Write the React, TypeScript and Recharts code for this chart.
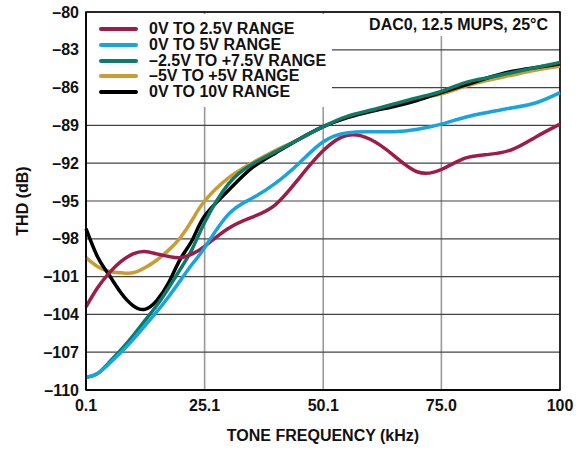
import {
  CartesianGrid,
  Label,
  Line,
  LineChart,
  ReferenceArea,
  XAxis,
  YAxis,
} from "recharts";

const freqKHz = [
  0.1, 2.5, 5, 7.5, 10, 12.5, 15, 17.5, 20, 22.5, 25.1, 30, 35, 40, 45, 50.1,
  55, 60, 65, 70, 75, 80, 85, 90, 95, 100,
];

const range0to2v5 = [
  -103.4, -101.9, -100.7, -99.8, -99.2, -99.0, -99.2, -99.4, -99.5, -99.2,
  -98.6, -97.2, -96.3, -95.3, -93.2, -91.0, -89.8, -90.1, -91.4, -92.7, -92.5,
  -91.6, -91.3, -90.9, -89.9, -88.9,
];
const range0to5v = [
  -109.0, -108.7, -107.9, -107.0, -106.0, -104.9, -103.8, -102.6, -101.3,
  -100.0, -98.7, -96.1, -94.8, -93.6, -92.0, -90.3, -89.6, -89.5, -89.5, -89.3,
  -88.9, -88.35, -87.95, -87.6, -87.2, -86.4,
];
const rangeM2v5to7v5 = [
  -109.0, -108.7, -107.8, -106.8, -105.7, -104.5, -103.3, -101.9, -100.4,
  -98.8, -96.7, -93.7, -92.1, -91.1, -90.1, -89.1, -88.3, -87.8, -87.3, -86.8,
  -86.3, -85.6, -85.2, -84.8, -84.4, -84.0,
];
const rangeM5to5v = [
  -99.5, -100.2, -100.6, -100.7, -100.7, -100.3, -99.7, -98.9, -97.9, -96.5,
  -95.0, -93.2, -92.0, -91.0, -90.1, -89.1, -88.4, -87.9, -87.4, -86.9, -86.5,
  -85.9, -85.4, -85.0, -84.6, -84.3,
];
const range0to10v = [
  -97.2, -99.4, -100.9, -102.3, -103.3, -103.6, -102.9, -101.5, -99.6, -98.1,
  -96.2, -94.2, -92.4, -91.2, -90.1, -89.1, -88.4, -87.9, -87.5, -87.0, -86.4,
  -85.8, -85.2, -84.7, -84.4, -84.1,
];

const xTicks = [0.1, 25.1, 50.1, 75.0, 100];
const xTickLabels = ["0.1", "25.1", "50.1", "75.0", "100"];
const yTicks = [-110, -107, -104, -101, -98, -95, -92, -89, -86, -83, -80];

const series = [
  { key: "r2v5", name: "0V TO 2.5V RANGE", color: "#9e1c4a", values: range0to2v5 },
  { key: "r5v", name: "0V TO 5V RANGE", color: "#18a4dc", values: range0to5v },
  { key: "rm2v5", name: "\u20132.5V TO +7.5V RANGE", color: "#0d7a6a", values: rangeM2v5to7v5 },
  { key: "rm5v", name: "\u20135V TO +5V RANGE", color: "#c99c34", values: rangeM5to5v },
  { key: "r10v", name: "0V TO 10V RANGE", color: "#000000", values: range0to10v },
];

// drawing order (last on top)
const drawOrder = ["rm5v", "r10v", "rm2v5", "r2v5", "r5v"];

const data = freqKHz.map((f, i) => {
  const row: Record<string, number> = { f };
  series.forEach((s) => {
    row[s.key] = s.values[i];
  });
  return row;
});

const FONT = '"Liberation Sans", Arial, Helvetica, sans-serif';
const textStyle = { fill: "#111", fontSize: 16, fontWeight: 700, fontFamily: FONT };

const fmtY = (v: number) => (v < 0 ? "\u2013" + Math.abs(v) : String(v));
const fmtX = (v: number) => {
  const i = xTicks.findIndex((t) => Math.abs(t - v) < 1e-6);
  return i >= 0 ? xTickLabels[i] : String(v);
};

export default function App() {
  return (
    <div style={{ position: "relative", width: 583, height: 449, background: "#fff", fontFamily: FONT }}>
      <style>{`body{margin:0;}`}</style>
      <LineChart
        width={583}
        height={449}
        data={data}
        margin={{ top: 12, right: 23, left: 0, bottom: 0 }}
      >
        <CartesianGrid horizontal={false} stroke="#9a9a9a" strokeWidth={1.6} />
        <CartesianGrid vertical={false} stroke="#444" strokeWidth={1.2} />
        <XAxis
          dataKey="f"
          type="number"
          domain={[0.1, 100]}
          ticks={xTicks}
          tickFormatter={fmtX}
          height={59}
          tickLine={false}
          tickMargin={4}
          axisLine={{ stroke: "#000", strokeWidth: 1.5 }}
          tick={textStyle}
          interval={0}
        >
          <Label value="TONE FREQUENCY (kHz)" position="insideBottom" offset={8} style={textStyle} />
        </XAxis>
        <YAxis
          type="number"
          domain={[-110, -80]}
          ticks={yTicks}
          tickFormatter={fmtY}
          width={86}
          tickLine={false}
          tickMargin={1}
          axisLine={{ stroke: "#000", strokeWidth: 1.5 }}
          tick={textStyle}
          interval={0}
        >
          <Label
            value="THD (dB)"
            angle={-90}
            position="insideLeft"
            offset={22}
            style={{ ...textStyle, textAnchor: "middle" }}
          />
        </YAxis>
        <ReferenceArea
          x1={0.1}
          x2={100}
          y1={-110}
          y2={-80}
          fill="none"
          stroke="#000"
          strokeWidth={1.5}
        />
        {drawOrder.map((k) => {
          const s = series.find((x) => x.key === k)!;
          return (
            <Line
              key={s.key}
              type="natural"
              dataKey={s.key}
              name={s.name}
              stroke={s.color}
              strokeWidth={3.5}
              dot={false}
              activeDot={false}
              isAnimationActive={false}
            />
          );
        })}
      </LineChart>

      {/* legend box covers the grid top-left */}
      <div
        style={{
          position: "absolute",
          left: 87,
          top: 14,
          width: 245,
          height: 93,
          background: "#fff",
        }}
      >
        {series.map((s, i) => (
          <div
            key={s.key}
            style={{
              position: "absolute",
              left: 12,
              top: 7 + i * 15.8,
              height: 16,
              display: "flex",
              alignItems: "center",
              whiteSpace: "nowrap",
            }}
          >
            <span style={{ display: "inline-block", width: 39, height: 4, background: s.color, borderRadius: 2 }} />
            <span style={{ marginLeft: 11, fontSize: 16, fontWeight: 700, color: "#111", lineHeight: "16px" }}>
              {s.name}
            </span>
          </div>
        ))}
      </div>

      {/* conditions note, top right */}
      <div
        style={{
          position: "absolute",
          left: 360,
          top: 14,
          width: 188,
          height: 22,
          background: "#fff",
          textAlign: "right",
          fontSize: 16,
          fontWeight: 700,
          color: "#111",
          lineHeight: "22px",
          whiteSpace: "nowrap",
        }}
      >
        DAC0, 12.5 MUPS, 25°C
      </div>
    </div>
  );
}
